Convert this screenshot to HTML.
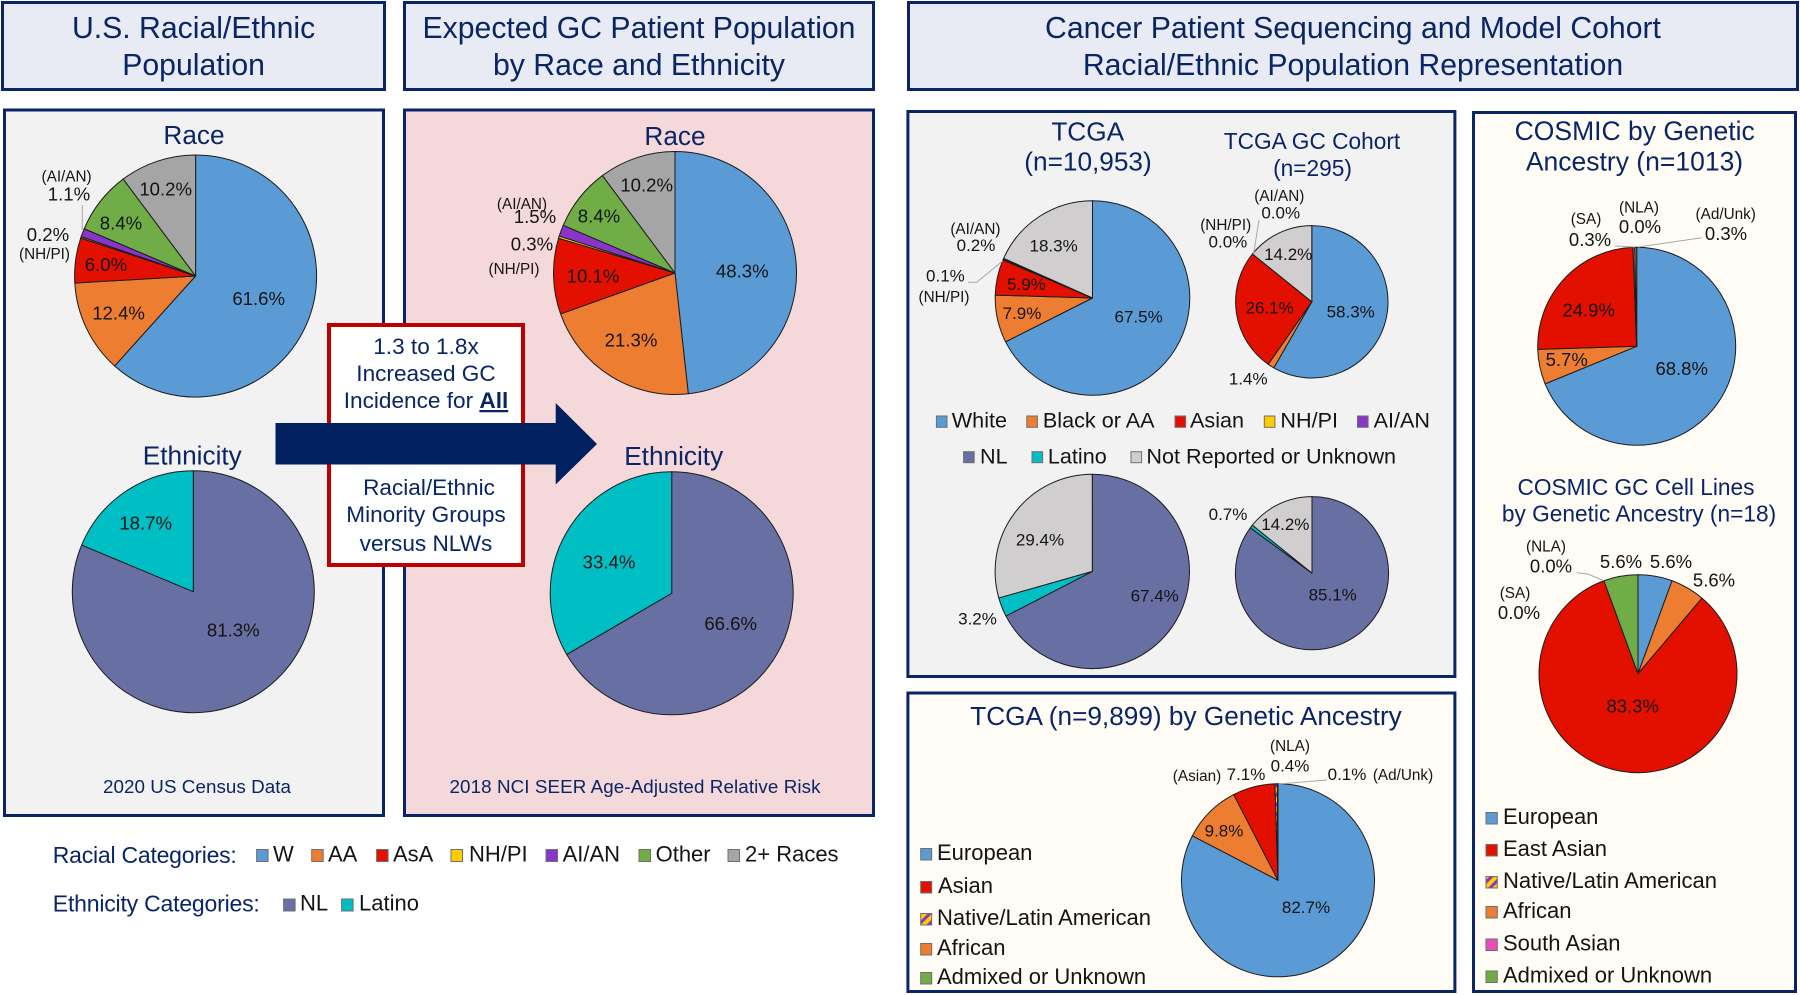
<!DOCTYPE html>
<html lang="en">
<head>
<meta charset="utf-8">
<title>Racial and ethnic representation in gastric cancer cohorts</title>
<style>
  html, body { margin: 0; padding: 0; background: #fff; }
  svg { display: block; font-family: "Liberation Sans", Arial, sans-serif; filter: blur(0.35px); }
  .navy { fill: #0a2566; }
  .ink { fill: #141414; }
  .mid { text-anchor: middle; }
  .box { stroke: #0a2566; stroke-width: 3; }
  .sw { stroke: #6f6f6f; stroke-width: 1; }
  .leader { fill: none; stroke: #a8a8a8; stroke-width: 1; }
  .h1 { font-size: 30.2px; }
  .h2 { font-size: 26.2px; }
  .h3 { font-size: 22.7px; }
  .cb { font-size: 22.6px; }
  .lg { font-size: 22px; }
  .lg-sm { font-size: 21.6px; }
  .tag { font-size: 15.3px; }
</style>
</head>
<body>
<svg id="figure" width="1800" height="995" viewBox="0 0 1800 995" xmlns="http://www.w3.org/2000/svg">
  <defs>
    <pattern id="stripe" patternUnits="userSpaceOnUse" width="7" height="7" patternTransform="rotate(45)">
      <rect width="7" height="7" fill="#ffcc00"/>
      <rect width="3" height="7" fill="#8a35c9"/>
    </pattern>
  </defs>

  <rect width="1800" height="995" fill="#ffffff"/>

  <g>
    <rect class="box" x="2.5" y="2.5" width="382" height="87" fill="#e8ebf3"/>
    <text class="navy mid h1" x="193.6" y="38">U.S. Racial/Ethnic</text>
    <text class="navy mid h1" x="193.6" y="75">Population</text>
  </g>
  <g>
    <rect class="box" x="404.5" y="2.5" width="469" height="87" fill="#e8ebf3"/>
    <text class="navy mid h1" x="639" y="38">Expected GC Patient Population</text>
    <text class="navy mid h1" x="639" y="75">by Race and Ethnicity</text>
  </g>
  <g>
    <rect class="box" x="908.5" y="2.5" width="889" height="87" fill="#e8ebf3"/>
    <text class="navy mid h1" x="1353" y="38">Cancer Patient Sequencing and Model Cohort</text>
    <text class="navy mid h1" x="1353" y="75">Racial/Ethnic Population Representation</text>
  </g>

  <rect class="box" x="4.5" y="110" width="379" height="705.5" fill="#f2f2f2"/>
  <rect class="box" x="404.5" y="110" width="469" height="705.5" fill="#f5d8d9"/>
  <rect class="box" x="907.9" y="111.5" width="547" height="565" fill="#f2f2f2"/>
  <rect class="box" x="907.9" y="693" width="547" height="298.5" fill="#fffcf5"/>
  <rect class="box" x="1473.5" y="112.5" width="322" height="879" fill="#fffcf5"/>

  <g>
    <rect x="329" y="325" width="194" height="240" fill="#ffffff" stroke="#c00000" stroke-width="4"/>
    <text class="navy mid cb" x="426" y="354">1.3 to 1.8x</text>
    <text class="navy mid cb" x="426" y="381">Increased GC</text>
    <text class="navy mid cb" x="426" y="408">Incidence for <tspan font-weight="bold" text-decoration="underline">All</tspan></text>
    <text class="navy mid cb" x="429" y="495">Racial/Ethnic</text>
    <text class="navy mid cb" x="426" y="522">Minority Groups</text>
    <text class="navy mid cb" x="426" y="551">versus NLWs</text>
  </g>
  <polygon fill="#002060" points="275.5,423 555.7,423 555.7,403 597,444 555.7,484.5 555.7,464.5 275.5,464.5"/>

  <text class="navy mid h2" x="194" y="144">Race</text>
  <text class="navy mid h2" x="192.3" y="464.3">Ethnicity</text>
  <text class="navy mid h2" x="675" y="145">Race</text>
  <text class="navy mid h2" x="673.7" y="465">Ethnicity</text>
  <text class="navy mid" font-size="18.8" x="197" y="793" textLength="188">2020 US Census Data</text>
  <text class="navy mid" font-size="18.8" x="635" y="793" textLength="371">2018 NCI SEER Age-Adjusted Relative Risk</text>

  <g>
    <text class="navy mid h2" x="1087.7" y="140.7">TCGA</text>
    <text class="navy mid h2" x="1088" y="170.7">(n=10,953)</text>
  </g>
  <g>
    <text class="navy mid h3" x="1312" y="149">TCGA GC Cohort</text>
    <text class="navy mid h3" x="1312.5" y="176">(n=295)</text>
  </g>
  <text class="navy mid h2" x="1186" y="725">TCGA (n=9,899) by Genetic Ancestry</text>
  <g>
    <text class="navy mid" font-size="26.5" x="1634.7" y="140">COSMIC by Genetic</text>
    <text class="navy mid" font-size="26.5" x="1634.5" y="170.7">Ancestry (n=1013)</text>
  </g>
  <g>
    <text class="navy mid h3" x="1636" y="495">COSMIC GC Cell Lines</text>
    <text class="navy mid h3" x="1639" y="521.7">by Genetic Ancestry (n=18)</text>
  </g>

  <g id="pies"></g>

  <g>
    <text class="ink mid tag" x="66.6" y="181.7">(AI/AN)</text>
    <text class="ink mid tag" x="44.5" y="259">(NH/PI)</text>
    <text class="ink mid tag" x="522" y="209">(AI/AN)</text>
    <text class="ink mid tag" x="514" y="274">(NH/PI)</text>
    <text class="ink mid tag" x="975.4" y="234">(AI/AN)</text>
    <text class="ink mid tag" x="944" y="302">(NH/PI)</text>
    <text class="ink mid tag" x="1279.3" y="201">(AI/AN)</text>
    <text class="ink mid tag" x="1225.7" y="230">(NH/PI)</text>
    <text class="ink mid tag" x="1290" y="751">(NLA)</text>
    <text class="ink mid tag" x="1197" y="781">(Asian)</text>
    <text class="ink mid tag" x="1403" y="780">(Ad/Unk)</text>
    <text class="ink mid tag" x="1586" y="224">(SA)</text>
    <text class="ink mid tag" x="1639" y="212.7">(NLA)</text>
    <text class="ink mid tag" x="1725.7" y="219">(Ad/Unk)</text>
    <text class="ink mid tag" x="1546" y="551.7">(NLA)</text>
    <text class="ink mid tag" x="1515" y="598">(SA)</text>
  </g>
  <g>
    <polyline class="leader" points="82.3,205 82.3,230"/>
    <polyline class="leader" points="968,282.3 976.8,282.3 1002.9,260.7"/>
    <polyline class="leader" points="1253.6,254 1259,220"/>
    <polyline class="leader" points="1278.6,784 1327,780"/>
    <polyline class="leader" points="1615,246 1635,247"/>
    <polyline class="leader" points="1638,247 1701.7,237.7"/>
    <polyline class="leader" points="1576.7,572.7 1588,574 1604,580.7"/>
  </g>

  <g>
    <text class="navy" font-size="23" x="52.8" y="863" textLength="184">Racial Categories:</text>
    <g><rect class="sw" x="256.6" y="849.5" width="11.5" height="12" fill="#5b9bd5"/><text class="ink lg" x="273" y="861.7">W</text></g>
    <g><rect class="sw" x="311.7" y="849.5" width="11.5" height="12" fill="#ed7d31"/><text class="ink lg" x="328" y="861.7">AA</text></g>
    <g><rect class="sw" x="376.6" y="849.5" width="11.5" height="12" fill="#e31000"/><text class="ink lg" x="393" y="861.7">AsA</text></g>
    <g><rect class="sw" x="451" y="849.5" width="11.5" height="12" fill="#ffcc00"/><text class="ink lg" x="469" y="861.7">NH/PI</text></g>
    <g><rect class="sw" x="546" y="849.5" width="11.5" height="12" fill="#8a35c9"/><text class="ink lg" x="562.6" y="861.7">AI/AN</text></g>
    <g><rect class="sw" x="639" y="849.5" width="11.5" height="12" fill="#70ad47"/><text class="ink lg" x="655.6" y="861.7">Other</text></g>
    <g><rect class="sw" x="728" y="849.5" width="11.5" height="12" fill="#a5a5a5"/><text class="ink lg" x="745" y="861.7">2+ Races</text></g>
  </g>
  <g>
    <text class="navy" font-size="23" x="52.8" y="911.7" textLength="207">Ethnicity Categories:</text>
    <g><rect class="sw" x="283.6" y="899" width="11.5" height="12" fill="#676fa3"/><text class="ink lg" x="300" y="910.7">NL</text></g>
    <g><rect class="sw" x="341.6" y="899" width="11.5" height="12" fill="#00bfc4"/><text class="ink lg" x="359" y="910.7">Latino</text></g>
  </g>

  <g>
    <g><rect class="sw" x="936.4" y="416" width="10.6" height="11.3" fill="#5b9bd5"/><text class="ink lg-sm" x="951.8" y="427.7">White</text></g>
    <g><rect class="sw" x="1026.8" y="416" width="10.6" height="11.3" fill="#ed7d31"/><text class="ink lg-sm" x="1042.9" y="427.7">Black or AA</text></g>
    <g><rect class="sw" x="1175" y="416" width="10.6" height="11.3" fill="#e31000"/><text class="ink lg-sm" x="1190" y="427.7">Asian</text></g>
    <g><rect class="sw" x="1264.3" y="416" width="10.6" height="11.3" fill="#ffcc00"/><text class="ink lg-sm" x="1280.4" y="427.7">NH/PI</text></g>
    <g><rect class="sw" x="1357.5" y="416" width="10.6" height="11.3" fill="#8a35c9"/><text class="ink lg-sm" x="1373.6" y="427.7">AI/AN</text></g>
    <g><rect class="sw" x="963.6" y="451.7" width="10.6" height="11" fill="#676fa3"/><text class="ink lg-sm" x="980" y="463.3">NL</text></g>
    <g><rect class="sw" x="1032" y="451.7" width="10.6" height="11" fill="#00bfc4"/><text class="ink lg-sm" x="1047.9" y="463.3">Latino</text></g>
    <g><rect class="sw" x="1131" y="451.7" width="10.6" height="11" fill="#d0cece"/><text class="ink lg-sm" x="1146.4" y="463.3">Not Reported or Unknown</text></g>
  </g>

  <g>
    <g><rect class="sw" x="920.7" y="848.5" width="11" height="11.5" fill="#5b9bd5"/><text class="ink lg" x="937" y="860">European</text></g>
    <g><rect class="sw" x="920.7" y="881.5" width="11" height="11.5" fill="#e31000"/><text class="ink lg" x="938" y="893">Asian</text></g>
    <g><rect class="sw" x="920.7" y="913.5" width="11" height="11.5" fill="url(#stripe)"/><text class="ink lg" x="937" y="925">Native/Latin American</text></g>
    <g><rect class="sw" x="920.7" y="943.5" width="11" height="11.5" fill="#ed7d31"/><text class="ink lg" x="937" y="955">African</text></g>
    <g><rect class="sw" x="920.7" y="972.5" width="11" height="11.5" fill="#70ad47"/><text class="ink lg" x="937" y="984">Admixed or Unknown</text></g>
  </g>

  <g>
    <g><rect class="sw" x="1486" y="812.5" width="11.3" height="11.5" fill="#5b9bd5"/><text class="ink lg" x="1503" y="824">European</text></g>
    <g><rect class="sw" x="1486" y="844.5" width="11.3" height="11.5" fill="#e31000"/><text class="ink lg" x="1503" y="856">East Asian</text></g>
    <g><rect class="sw" x="1486" y="876.5" width="11.3" height="11.5" fill="url(#stripe)"/><text class="ink lg" x="1503" y="888">Native/Latin American</text></g>
    <g><rect class="sw" x="1486" y="906.5" width="11.3" height="11.5" fill="#ed7d31"/><text class="ink lg" x="1503" y="918">African</text></g>
    <g><rect class="sw" x="1486" y="939" width="11.3" height="11.5" fill="#e94fb9"/><text class="ink lg" x="1503" y="950.7">South Asian</text></g>
    <g><rect class="sw" x="1486" y="971" width="11.3" height="11.5" fill="#70ad47"/><text class="ink lg" x="1503" y="982.7">Admixed or Unknown</text></g>
  </g>
</svg>

<script>
// ---- Categories ----
const raceCategories = ['White', 'Black', 'Asian', 'NHPI', 'AIAN', 'Other', 'TwoPlus'];
const cancerRaceCategories = ['White', 'Black', 'Asian', 'NHPI', 'AIAN', 'Unknown'];
const ethnicityCategories = ['NL', 'Latino'];
const cancerEthnicityCategories = ['NL', 'Latino', 'Unknown'];
const tcgaAncestryCategories = ['European', 'African', 'Asian', 'NativeLatin', 'Admixed'];
const cosmicAncestryCategories = ['European', 'African', 'Asian', 'SouthAsian', 'NativeLatin', 'Admixed'];

// ---- Series values (percent) ----
const usRaceValues = [61.6, 12.4, 6.0, 0.2, 1.1, 8.4, 10.2];
const usEthnicityValues = [81.3, 18.7];
const gcRaceValues = [48.3, 21.3, 10.1, 0.3, 1.5, 8.4, 10.2];
const gcEthnicityValues = [66.6, 33.4];
const tcgaRaceValues = [67.5, 7.9, 5.9, 0.1, 0.2, 18.3];
const tcgaGcRaceValues = [58.3, 1.4, 26.1, 0.0, 0.0, 14.2];
const tcgaEthnicityValues = [67.4, 3.2, 29.4];
const tcgaGcEthnicityValues = [85.1, 0.7, 14.2];
const tcgaAncestryValues = [82.7, 9.8, 7.1, 0.4, 0.1];
const cosmicAncestryValues = [68.8, 5.7, 24.9, 0.3, 0.0, 0.3];
const cosmicGcAncestryValues = [5.6, 5.6, 83.3, 0.0, 0.0, 5.6];

// ---- Styling and layout (separate from the data above) ----
const categoryFill = {
  White: '#5b9bd5', Black: '#ed7d31', Asian: '#e31000', NHPI: '#ffcc00', AIAN: '#8a35c9',
  Other: '#70ad47', TwoPlus: '#a5a5a5', Unknown: '#d0cece', NL: '#676fa3', Latino: '#00bfc4',
  European: '#5b9bd5', African: '#ed7d31', NativeLatin: 'url(#stripe)', SouthAsian: '#e94fb9', Admixed: '#70ad47'
};
const pieLayouts = {
  usRace: { cx: 195.6, cy: 276, r: 121, font: 18.6, spots: [[258.7,305],[118.6,319.3],[106,271],[48,241],[69,200.3],[121,229.3],[165.7,195.7]] },
  usEthnicity: { cx: 193.3, cy: 591.7, r: 121, font: 18.6, spots: [[233.3,636.7],[145.7,529.3]] },
  gcRace: { cx: 675, cy: 273, r: 121.5, font: 18.6, spots: [[742.3,277.7],[631,346.7],[593,282.3],[532,250.7],[535,223],[599,222.3],[646.7,191.7]] },
  gcEthnicity: { cx: 671.7, cy: 593.3, r: 121.5, font: 18.6, spots: [[730.7,630],[609,568.3]] },
  tcgaRace: { cx: 1092.5, cy: 298, r: 97.3, font: 17, spots: [[1138.6,322.3],[1022,319],[1026.4,290],[945.4,281.7],[976,251],[1053.6,251.7]] },
  tcgaGcRace: { cx: 1311.8, cy: 301.8, r: 76.2, font: 17, spots: [[1350.7,317.3],[1248.2,384.3],[1269.6,313.3],[1227.9,247.3],[1280.7,218.3],[1288.2,260]] },
  tcgaEthnicity: { cx: 1092.3, cy: 571.4, r: 97.2, font: 17, spots: [[1154.7,601.7],[977.5,624.3],[1040,545.7]] },
  tcgaGcEthnicity: { cx: 1312, cy: 573.2, r: 76.6, font: 17, spots: [[1332.7,600.7],[1228,520],[1285.3,530]] },
  tcgaAncestry: { cx: 1278, cy: 880.3, r: 96.5, font: 17, spots: [[1306,913],[1224,836.7],[1246,780],[1290,771.7],[1347,780]] },
  cosmicAncestry: { cx: 1636.7, cy: 346.3, r: 99, font: 18.5, spots: [[1681.7,375],[1566.7,366],[1588.7,316.7],[1590,246],[1640,233],[1726,240]] },
  cosmicGcAncestry: { cx: 1638, cy: 673.7, r: 99, font: 18.5, spots: [[1671,568],[1714,586.7],[1632.7,712.7],[1519,619],[1551,572.7],[1621,568]] }
};

const SVG_NS = 'http://www.w3.org/2000/svg';
const piesRoot = document.getElementById('pies');

// Angular axis: share of total -> clockwise angle from 12 o'clock.
function angleScale(share) {
  return share * 2 * Math.PI;
}
function polarX(layout, angle) {
  return layout.cx + layout.r * Math.sin(angle);
}
function polarY(layout, angle) {
  return layout.cy - layout.r * Math.cos(angle);
}
function slicePath(layout, startShare, endShare) {
  const a0 = angleScale(startShare);
  const a1 = angleScale(endShare);
  const large = (endShare - startShare) > 0.5 ? 1 : 0;
  return 'M' + layout.cx + ' ' + layout.cy +
    'L' + polarX(layout, a0).toFixed(2) + ' ' + polarY(layout, a0).toFixed(2) +
    'A' + layout.r + ' ' + layout.r + ' 0 ' + large + ' 1 ' +
    polarX(layout, a1).toFixed(2) + ' ' + polarY(layout, a1).toFixed(2) + 'Z';
}

function drawPie(name, values, categories, layout) {
  const group = document.createElementNS(SVG_NS, 'g');
  
  
  piesRoot.appendChild(group);

  const total = values.reduce(function (sum, v) { return sum + v; }, 0);
  let running = 0;
  values.forEach(function (value, i) {
    const start = running / total;
    running += value;
    const end = Math.min(running / total, 0.99999);
    const slice = document.createElementNS(SVG_NS, 'path');
    slice.setAttribute('d', slicePath(layout, start, end));
    slice.setAttribute('fill', categoryFill[categories[i]]);
    slice.setAttribute('stroke', '#1c1c1c');
    slice.setAttribute('stroke-width', '1');
    slice.setAttribute('stroke-linejoin', 'round');
    
    
    group.appendChild(slice);
  });

  values.forEach(function (value, i) {
    const label = document.createElementNS(SVG_NS, 'text');
    label.setAttribute('x', layout.spots[i][0]);
    label.setAttribute('y', layout.spots[i][1]);
    label.setAttribute('class', 'ink mid');
    label.setAttribute('font-size', layout.font);
    
    
    label.textContent = value.toFixed(1) + '%';
    group.appendChild(label);
  });
}

drawPie('us-race', usRaceValues, raceCategories, pieLayouts.usRace);
drawPie('us-ethnicity', usEthnicityValues, ethnicityCategories, pieLayouts.usEthnicity);
drawPie('gc-race', gcRaceValues, raceCategories, pieLayouts.gcRace);
drawPie('gc-ethnicity', gcEthnicityValues, ethnicityCategories, pieLayouts.gcEthnicity);
drawPie('tcga-race', tcgaRaceValues, cancerRaceCategories, pieLayouts.tcgaRace);
drawPie('tcga-gc-race', tcgaGcRaceValues, cancerRaceCategories, pieLayouts.tcgaGcRace);
drawPie('tcga-ethnicity', tcgaEthnicityValues, cancerEthnicityCategories, pieLayouts.tcgaEthnicity);
drawPie('tcga-gc-ethnicity', tcgaGcEthnicityValues, cancerEthnicityCategories, pieLayouts.tcgaGcEthnicity);
drawPie('tcga-ancestry', tcgaAncestryValues, tcgaAncestryCategories, pieLayouts.tcgaAncestry);
drawPie('cosmic-ancestry', cosmicAncestryValues, cosmicAncestryCategories, pieLayouts.cosmicAncestry);
drawPie('cosmic-gc-ancestry', cosmicGcAncestryValues, cosmicAncestryCategories, pieLayouts.cosmicGcAncestry);
</script>
</body>
</html>
